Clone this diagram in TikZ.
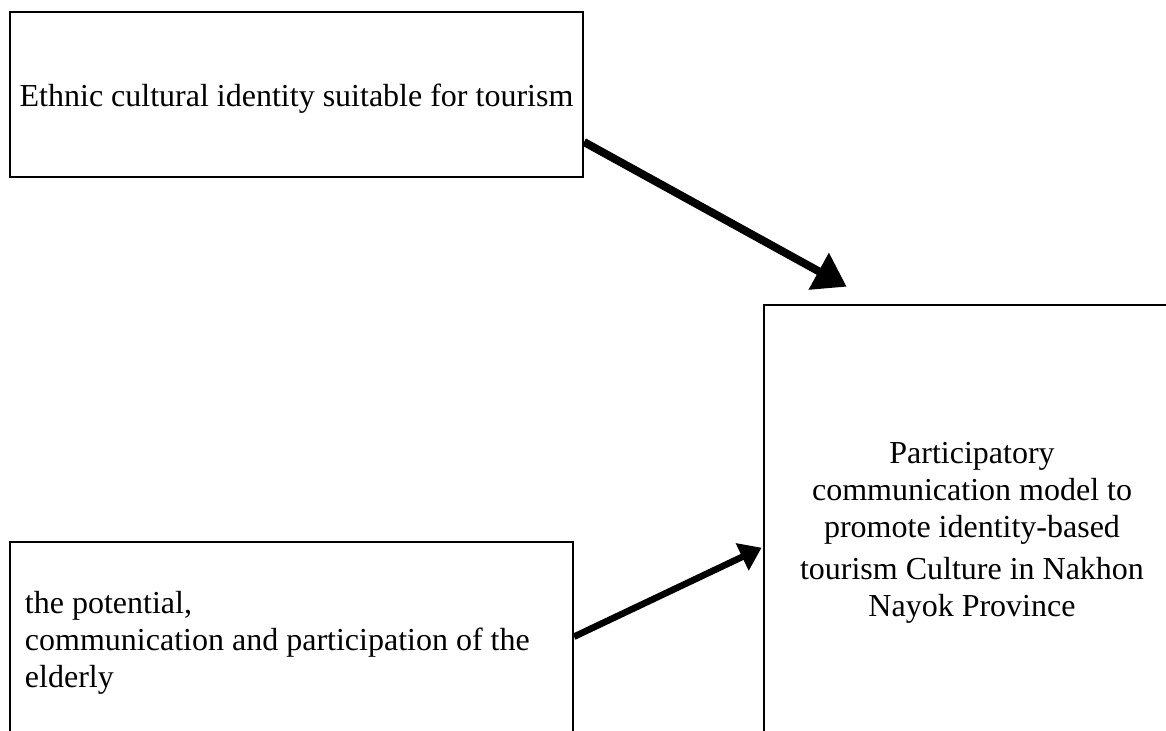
\documentclass[tikz,border=0pt]{standalone}
\usepackage{fontspec}
\setmainfont{Liberation Serif}
\usetikzlibrary{
    arrows.meta,
    positioning
}

\begin{document}
\begin{tikzpicture}[x=0.5pt, y=-0.5pt,
        box/.style={draw, line width=1pt, anchor=north west, font=\fontsize{16}{18.5}\selectfont}]
                        \useasboundingbox (0, 0) rectangle (1166, 731);
                        \clip (0, 0) rectangle (1166, 731);
                        \node[box, minimum width=286.5pt, minimum height=82.5pt, text height=16pt, text depth=3.5pt] (n1) at (9, 11) {Ethnic cultural identity suitable for tourism};
                        \node[box, minimum width=281.5pt, minimum height=101pt, text width=266.5pt, inner xsep=7.5pt, align=flush left] (n2) at (9, 541) {the potential,\\ communication and participation of the\\ elderly};
                        \node[box, minimum width=208pt, minimum height=228pt, align=center] (nm) at (763, 304) {Participatory\\ communication model to\\ promote identity-based\\[2.5pt] tourism Culture in Nakhon\\ Nayok Province};

                        \draw
                        ([yshift=18pt]n1.south east) edge[line width=4pt, -{Triangle[length=16pt, width=20pt]}] ([xshift=41.85pt, yshift=8.65pt]nm.north west)
                        ([yshift=-47.85pt]n2.north east) edge[line width=3.3pt, -{Triangle[length=10.75pt, width=14.5pt]}] ([xshift=-0.7pt, yshift=-7.35pt]nm.west);
                    \end{tikzpicture}
\end{document}
